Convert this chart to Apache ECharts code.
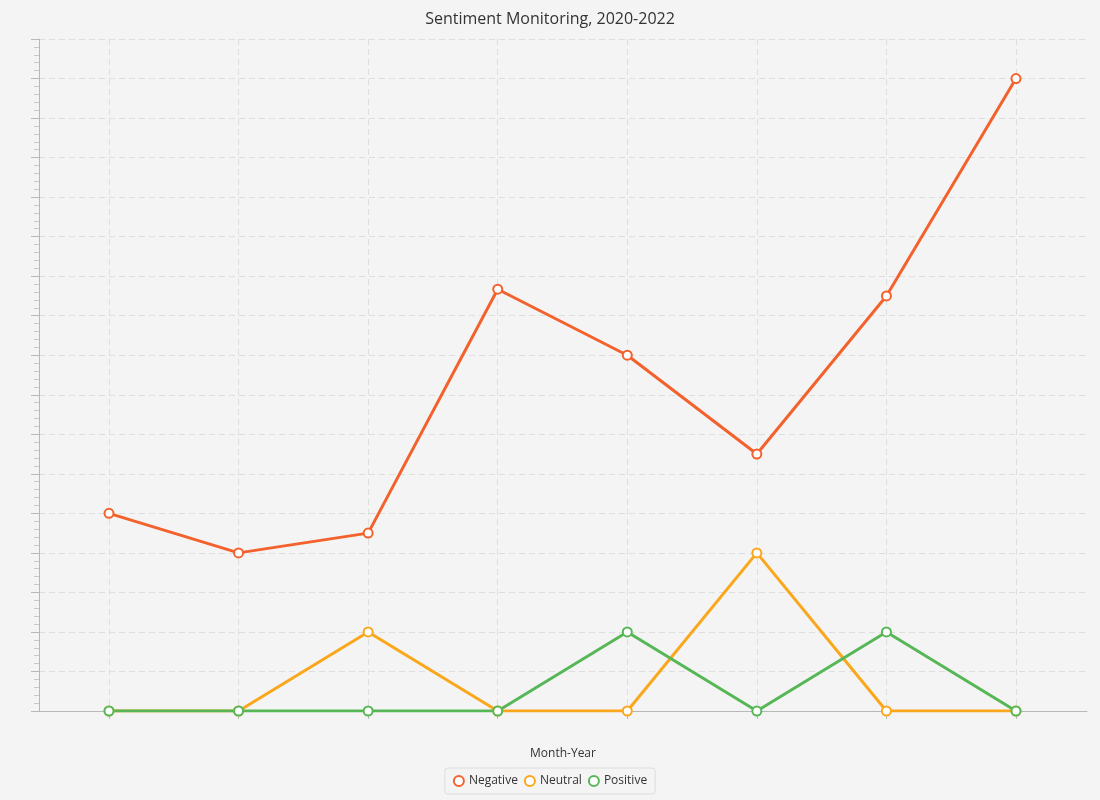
<!DOCTYPE html>
<html>
<head>
<meta charset="utf-8">
<script src="https://cdn.jsdelivr.net/npm/echarts@6/dist/echarts.min.js"></script>
<style>
  html, body { margin: 0; padding: 0; background: #f4f4f4; }
  #main { width: 1100px; height: 800px; }
</style>
</head>
<body>
<div id="main"></div>
<script>
// 8 periods, axis labels are not shown on the chart
var categories = ['1', '2', '3', '4', '5', '6', '7', '8'];
var negative = [5, 4, 4.5, 10.67, 9, 6.5, 10.5, 16];
var neutral = [0, 0, 2, 0, 0, 4, 0, 0];
var positive = [0, 0, 0, 0, 2, 0, 2, 0];
var yMax = 17;

var colors = ['#f3622d', '#fba71b', '#57b757'];
var gridColor = '#dedede';
var axisColor = '#b8b8b8';

var myChart = echarts.init(document.getElementById('main'));

function lineSeries(name, data, color) {
  return {
    name: name,
    type: 'line',
    xAxisIndex: 0,
    yAxisIndex: 0,
    data: data,
    symbol: 'emptyCircle',
    symbolSize: 9,
    lineStyle: { color: color, width: 3 },
    itemStyle: { color: color, borderColor: color, borderWidth: 2 },
    emphasis: { disabled: true }
  };
}

var option = {
  backgroundColor: '#f4f4f4',
  animation: false,
  color: colors,
  textStyle: { fontFamily: 'Open Sans, Noto Sans, sans-serif' },
  title: {
    text: 'Sentiment Monitoring, 2020-2022',
    left: 'center',
    top: 6,
    textStyle: { fontSize: 16, fontWeight: 'normal', color: '#333' }
  },
  legend: {
    bottom: 6,
    left: 'center',
    icon: 'emptyCircle',
    itemWidth: 10,
    itemHeight: 10,
    itemGap: 6,
    padding: [7, 8],
    borderColor: '#dcdcdc',
    borderWidth: 1,
    borderRadius: 3,
    backgroundColor: '#f4f4f4',
    textStyle: { fontSize: 12, color: '#333' },
    data: ['Negative', 'Neutral', 'Positive']
  },
  grid: [
    // series grid, categories centred on the ticks
    { left: 109, right: 84, top: 39, bottom: 89 },
    // frame grid, axis lines and horizontal grid
    { left: 39, right: 13, top: 39, bottom: 89 }
  ],
  xAxis: [
    {
      type: 'category',
      gridIndex: 0,
      data: categories,
      boundaryGap: false,
      axisLine: { show: false },
      axisLabel: { show: false },
      axisTick: { show: true, length: 8, lineStyle: { color: axisColor } },
      splitLine: { show: true, lineStyle: { color: gridColor, type: [6, 4] } }
    },
    {
      type: 'value',
      gridIndex: 1,
      min: 0,
      max: 1,
      name: 'Month-Year',
      nameLocation: 'middle',
      nameGap: 37,
      nameTextStyle: { fontSize: 12, color: '#333' },
      axisLine: { show: true, lineStyle: { color: axisColor, width: 1 } },
      axisTick: { show: false },
      axisLabel: { show: false },
      splitLine: { show: false }
    }
  ],
  yAxis: [
    {
      type: 'value',
      gridIndex: 0,
      min: 0,
      max: yMax,
      show: false
    },
    {
      type: 'value',
      gridIndex: 1,
      min: 0,
      max: yMax,
      interval: 1,
      axisLine: { show: true, lineStyle: { color: axisColor, width: 1 } },
      axisTick: { show: true, length: 8, lineStyle: { color: axisColor } },
      minorTick: { show: true, splitNumber: 5, length: 5, lineStyle: { color: '#c8c8c8' } },
      axisLabel: { show: false },
      splitLine: { show: true, lineStyle: { color: gridColor, type: [6, 4] } }
    }
  ],
  series: [
    lineSeries('Negative', negative, colors[0]),
    lineSeries('Neutral', neutral, colors[1]),
    lineSeries('Positive', positive, colors[2])
  ]
};

myChart.setOption(option);
</script>
</body>
</html>
